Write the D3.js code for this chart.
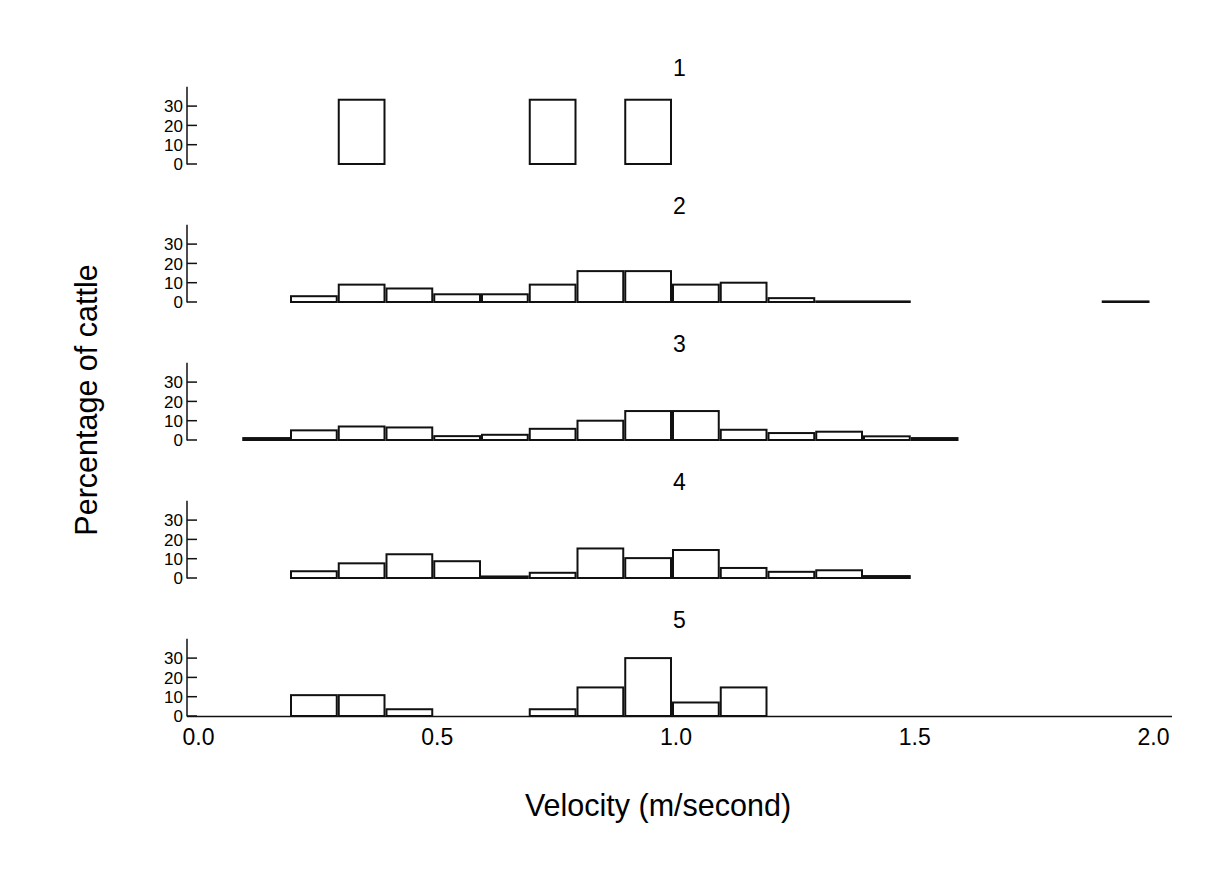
<!DOCTYPE html>
<html>
<head>
<meta charset="utf-8">
<script src="https://cdn.jsdelivr.net/npm/d3@7/dist/d3.min.js"></script>
<style>
  html, body { margin: 0; padding: 0; background: #fff; }
  svg { display: block; }
</style>
</head>
<body>
<svg id="chart" width="1207" height="877"></svg>
<script>
// Left edges of the 0.1 m/s velocity bins
const binLeft = [0.1, 0.2, 0.3, 0.4, 0.5, 0.6, 0.7, 0.8, 0.9, 1.0,
                 1.1, 1.2, 1.3, 1.4, 1.5, 1.6, 1.7, 1.8, 1.9];

// Percentage of cattle in each bin, per group (null = no animals)
const group1 = [null, null, 33.3, null, null, null, 33.3, null, 33.3, null,
                null, null, null, null, null, null, null, null, null];
const group2 = [null, 3, 9, 7, 4, 4, 9, 16, 16, 9,
                10, 2, 0.3, 0.3, null, null, null, null, 0.3];
const group3 = [1, 5, 7, 6.5, 2, 2.7, 5.8, 10, 15, 15,
                5.3, 3.6, 4.3, 1.9, 1, null, null, null, null];
const group4 = [null, 3.5, 7.6, 12.3, 8.7, 0.8, 2.7, 15.3, 10.3, 14.5,
                5.2, 3.2, 4, 1, null, null, null, null, null];
const group5 = [null, 10.8, 10.8, 3.5, null, null, 3.5, 14.8, 30, 7,
                14.8, null, null, null, null, null, null, null, null];

const groupNames = ["1", "2", "3", "4", "5"];
const groups = [group1, group2, group3, group4, group5];

const yTicks = [0, 10, 20, 30];
const xTicks = [0.0, 0.5, 1.0, 1.5, 2.0];
const binWidth = 0.1;

const svg = d3.select("#chart");
const ink = "#111";

// shared velocity scale
const x = d3.scaleLinear().domain([0, 2]).range([194.5, 1149.5]);

const axisX = 187;          // position of the percentage axes
const plotRight = 1172;     // end of the velocity axis line
const panelBase0 = 164;     // baseline of the first panel
const panelStep = 138;      // vertical distance between panels
const panelHeight = 77.2;   // pixel height of 0..40 %

groups.forEach((vals, gi) => {
  const base = panelBase0 + gi * panelStep;
  const y = d3.scaleLinear().domain([0, 40]).range([base, base - panelHeight]);
  const g = svg.append("g");

  // panel title
  g.append("text")
    .attr("x", (axisX + plotRight) / 2)
    .attr("y", base - 88)
    .attr("text-anchor", "middle")
    .attr("font-family", "Liberation Sans, Arial, sans-serif")
    .attr("font-size", 23)
    .attr("fill", "#000")
    .text(groupNames[gi]);

  // percentage axis: line, inward ticks, narrow labels
  g.append("line")
    .attr("x1", axisX).attr("x2", axisX)
    .attr("y1", y(40)).attr("y2", base + 0.5)
    .attr("stroke", ink).attr("stroke-width", 1.5);

  g.selectAll("line.tick").data(yTicks).join("line")
    .attr("class", "tick")
    .attr("x1", axisX).attr("x2", axisX + 10)
    .attr("y1", d => y(d)).attr("y2", d => y(d))
    .attr("stroke", ink).attr("stroke-width", 1.5);

  g.selectAll("text.ylab").data(yTicks).join("text")
    .attr("class", "ylab")
    .attr("x", axisX - 4)
    .attr("y", d => y(d))
    .attr("dy", "0.36em")
    .attr("text-anchor", "end")
    .attr("font-family", "Liberation Sans Narrow, Arial Narrow, sans-serif")
    .attr("font-size", 17)
    .attr("fill", "#000")
    .text(d => d);

  // histogram bars
  const bars = binLeft.map((b, i) => ({ b, v: vals[i] })).filter(d => d.v != null);
  g.selectAll("rect").data(bars).join("rect")
    .attr("x", d => x(d.b) + 1)
    .attr("width", d => x(d.b + binWidth) - x(d.b) - 2)
    .attr("y", d => y(d.v))
    .attr("height", d => base - y(d.v))
    .attr("fill", "#fff")
    .attr("stroke", ink)
    .attr("stroke-width", 2);

  // velocity axis only under the last panel
  if (gi === groups.length - 1) {
    g.append("line")
      .attr("x1", axisX).attr("x2", plotRight)
      .attr("y1", base + 0.5).attr("y2", base + 0.5)
      .attr("stroke", ink).attr("stroke-width", 1.5);

    g.selectAll("text.xlab").data(xTicks).join("text")
      .attr("class", "xlab")
      .attr("x", d => x(d) + 4)
      .attr("y", base + 29)
      .attr("text-anchor", "middle")
      .attr("font-family", "Liberation Sans, Arial, sans-serif")
      .attr("font-size", 23)
      .attr("fill", "#000")
      .text(d => d.toFixed(1));
  }
});

// axis titles
svg.append("text")
  .attr("x", 658).attr("y", 816)
  .attr("text-anchor", "middle")
  .attr("font-family", "Liberation Sans, Arial, sans-serif")
  .attr("font-size", 30.5)
  .attr("fill", "#000")
  .text("Velocity (m/second)");

svg.append("text")
  .attr("transform", "translate(97,400) rotate(-90)")
  .attr("text-anchor", "middle")
  .attr("font-family", "Liberation Sans, Arial, sans-serif")
  .attr("font-size", 30.5)
  .attr("fill", "#000")
  .text("Percentage of cattle");
</script>
</body>
</html>
